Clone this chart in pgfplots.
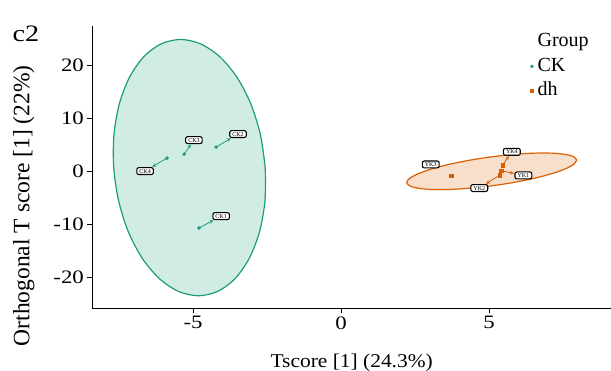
\documentclass[border=0pt]{standalone}
\usepackage{fontspec}
\setmainfont{Liberation Serif}
\newfontfamily\tickfam[FakeStretch=1.2]{Liberation Serif}
\newfontfamily\xlabfam[FakeStretch=1.1]{Liberation Serif}
\newfontfamily\cfam[FakeStretch=1.2]{Liberation Serif}
\usepackage{pgfplots}
\pgfplotsset{compat=1.18}
\usepackage{pgfplotstable}
\usetikzlibrary{arrows.meta}
\definecolor{ckg}{RGB}{27,158,119}
\definecolor{dhc}{RGB}{217,95,2}

\pgfplotstableread{
x y
-4.80 -10.75
-4.22 4.53
-5.30 3.20
-5.88 2.45
}\ckdata
\pgfplotstableread{
x y
5.41 0.06
5.36 -0.75
3.72 -0.88
5.46 1.13
}\dhdata

\begin{document}
\begin{tikzpicture}[
  lab/.style={draw=black, line width=1.1pt, rounded corners=2pt, fill=white,
    font=\fontsize{6}{6}\selectfont, inner xsep=2.6pt, inner ysep=1.3pt,
    text height=4.3pt, text depth=0pt},
  cka/.style={draw=ckg, line width=0.8pt, shorten <=1.5pt, shorten >=0.4pt, -{Stealth[length=4pt,width=3.6pt]}},
  dha/.style={draw=dhc, line width=0.8pt, shorten <=1.5pt, shorten >=0.4pt, -{Stealth[length=4pt,width=3.6pt]}}
]
\begin{axis}[
  at={(0,0)}, anchor=south west,
  scale only axis, width=518.6pt, height=282pt,
  xmin=-8.4, xmax=9.12, ymin=-25.85, ymax=27.4,
  axis lines*=left,
  axis line style={line width=0.9pt, black},
  xtick={-5,0,5}, ytick={-20,-10,0,10,20},
  tick align=outside, major tick length=5pt,
  tick style={line width=0.9pt, black},
  /pgf/number format/assume math mode=true,
  ticklabel style={font=\tickfam\fontsize{19}{19}\selectfont},
  xlabel={Tscore [1] (24.3\%)},
  ylabel={Orthogonal T score [1] (22\%)},
  xlabel style={font=\xlabfam\fontsize{19.5}{19.5}\selectfont,
    at={(axis description cs:0.5,-0.2125)}, anchor=base},
  ylabel style={font=\fontsize{23.5}{23.5}\selectfont,
    at={(axis description cs:-0.1217,0.3624)}, anchor=base, rotate=0},
  clip=false,
  legend cell align=left,
  legend style={at={(axis description cs:0.8442,0.9833)}, anchor=north west,
    draw=none, fill=none, inner sep=0pt, outer sep=0pt,
    font=\fontsize{20}{20}\selectfont, column sep=2pt, row sep=2pt,
    nodes={inner sep=2pt, text height=14pt, text depth=4.5pt}},
  legend image code/.code={\draw[#1] plot coordinates {(0pt,0pt)};},
]
% ellipses
\addplot[forget plot, draw=ckg, line width=1.2pt, fill=ckg, fill opacity=0.2, draw opacity=1, smooth] coordinates {
(-2.560,0.66) (-2.725,6.92) (-3.053,12.76) (-3.522,17.77) (-4.100,21.62) (-4.748,24.035)
(-5.420,24.86) (-6.073,24.035) (-6.660,21.62) (-7.142,17.77) (-7.487,12.76) (-7.671,6.92)
(-7.680,0.66) (-7.515,-5.60) (-7.187,-11.44) (-6.718,-16.45) (-6.140,-20.30) (-5.493,-22.715)
(-4.820,-23.54) (-4.168,-22.715) (-3.580,-20.30) (-3.098,-16.45) (-2.753,-11.44) (-2.569,-5.60)
(-2.560,0.66)
};
\addplot[forget plot, draw=dhc, line width=1.2pt, fill=dhc, fill opacity=0.2, draw opacity=1, smooth] coordinates {
(7.960,2.070) (7.862,2.707) (7.575,3.157) (7.119,3.389) (6.525,3.388) (5.833,3.153)
(5.090,2.700) (4.347,2.061) (3.655,1.278) (3.061,0.405) (2.605,-0.497) (2.318,-1.369)
(2.220,-2.150) (2.318,-2.787) (2.605,-3.237) (3.061,-3.469) (3.655,-3.468) (4.347,-3.233)
(5.090,-2.780) (5.833,-2.141) (6.525,-1.358) (7.119,-0.485) (7.575,0.417) (7.862,1.289)
(7.960,2.070)
};
\addlegendimage{empty legend}
\addlegendentry{Group}
\addplot[only marks, mark=*, mark size=1.6pt, color=ckg] table {\ckdata};
\addlegendentry{CK}
\addplot[only marks, mark=square*, mark size=1.7pt, color=dhc] table {\dhdata};
\addlegendentry{dh}
% labels
\node[lab] (ck1) at (axis cs:-4.05,-8.5) {CK1};
\node[lab] (ck2) at (axis cs:-3.48,7.0) {CK2};
\node[lab] (ck3) at (axis cs:-4.97,5.85) {CK3};
\node[lab] (ck4) at (axis cs:-6.62,0.0) {CK4};
\node[lab] (yk1) at (axis cs:6.16,-0.81) {YK1};
\node[lab] (yk2) at (axis cs:4.67,-3.2) {YK2};
\node[lab] (yk3) at (axis cs:3.03,1.26) {YK3};
\node[lab] (yk4) at (axis cs:5.77,3.64) {YK4};
\draw[cka] (axis cs:-4.80,-10.75) -- (ck1);
\draw[cka] (axis cs:-4.22,4.53) -- (ck2);
\draw[cka] (axis cs:-5.30,3.20) -- (ck3);
\draw[cka] (axis cs:-5.88,2.45) -- (ck4);
\draw[dha] (axis cs:5.41,0.06) -- (yk1);
\draw[dha] (axis cs:5.36,-0.75) -- (yk2);
\draw[dha] (axis cs:5.46,1.13) -- (yk4);
\end{axis}
\node[font=\cfam\fontsize{23.5}{23.5}\selectfont, anchor=base west, inner sep=0pt] at (-80pt,266.3pt) {c2};
\pgfresetboundingbox
\useasboundingbox (-92.4pt,-63pt) rectangle (518.6pt,308pt);
\end{tikzpicture}
\end{document}
